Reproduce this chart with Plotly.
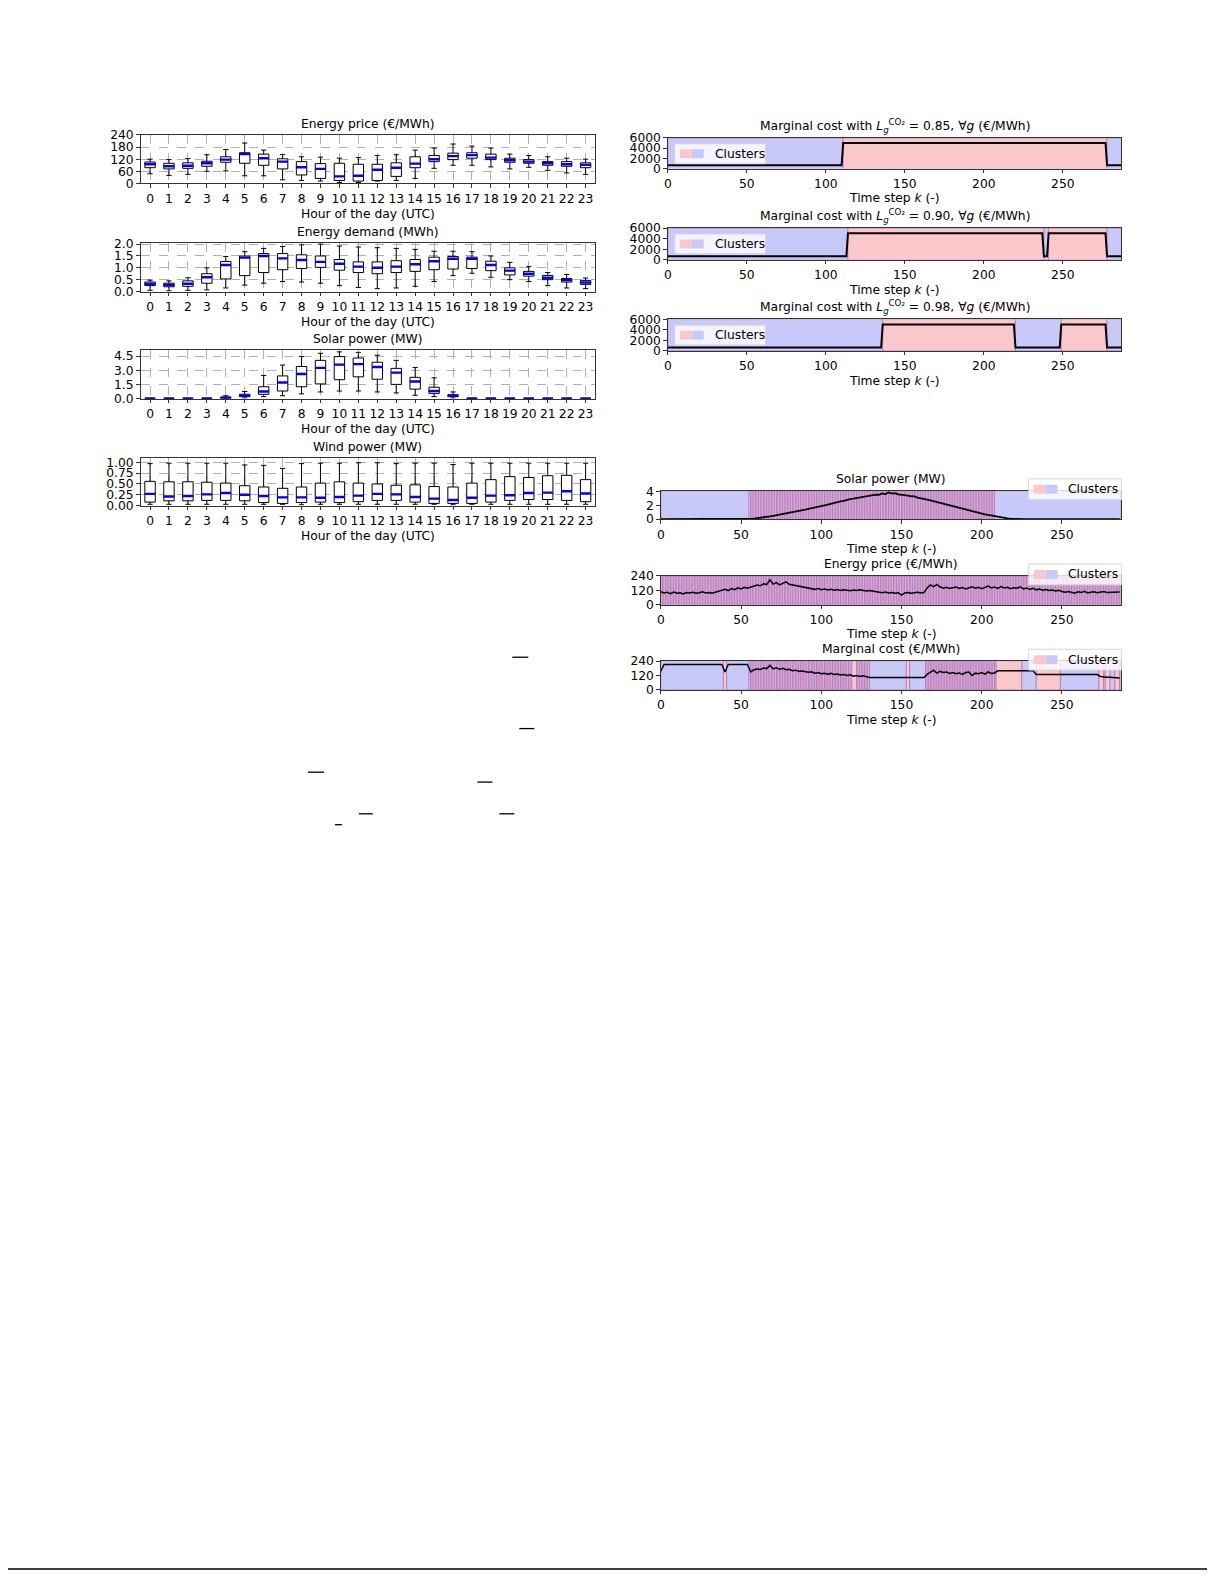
import plotly.graph_objects as go

# page is laid out in screen pixels; the html body adds an 8 px margin
PAGE_W, PAGE_H = 1225, 1585
OFF = 8
W, H = PAGE_W - 2 * OFF, PAGE_H - 2 * OFF
FONT = "DejaVu Sans"
FS = 12.3

# ---------------- box plot data (per hour of day) ----------------
hours = list(range(24))

price_lo = [48, 40, 45, 60, 62, 38, 38, 18, 15, 12, 5, 5, 12, 15, 25, 75, 90, 90, 82, 72, 80, 65, 52, 45]
price_q1 = [78, 72, 75, 85, 105, 100, 90, 72, 42, 25, 15, 12, 15, 35, 78, 108, 118, 125, 118, 105, 100, 90, 85, 78]
price_med = [95, 85, 88, 100, 118, 145, 125, 108, 80, 72, 35, 38, 68, 78, 98, 120, 135, 140, 128, 115, 108, 100, 95, 92]
price_q3 = [106, 100, 102, 110, 132, 152, 145, 122, 108, 98, 100, 95, 95, 102, 132, 138, 150, 152, 145, 125, 118, 108, 108, 102]
price_hi = [120, 118, 123, 142, 168, 200, 165, 143, 132, 130, 125, 128, 138, 142, 165, 175, 195, 185, 175, 145, 138, 132, 125, 120]

demand_lo = [0.05, 0.03, 0.05, 0.07, 0.15, 0.27, 0.35, 0.42, 0.40, 0.35, 0.25, 0.17, 0.12, 0.15, 0.22, 0.42, 0.67, 0.77, 0.60, 0.50, 0.42, 0.25, 0.15, 0.12]
demand_q1 = [0.25, 0.20, 0.22, 0.35, 0.53, 0.67, 0.80, 0.92, 0.97, 1.02, 0.90, 0.80, 0.75, 0.80, 0.85, 0.92, 0.95, 0.97, 0.88, 0.70, 0.65, 0.50, 0.40, 0.30]
demand_med = [0.32, 0.28, 0.33, 0.60, 1.12, 1.43, 1.50, 1.40, 1.33, 1.25, 1.17, 1.05, 1.00, 1.05, 1.15, 1.28, 1.38, 1.38, 1.12, 0.88, 0.75, 0.58, 0.48, 0.38]
demand_q3 = [0.40, 0.35, 0.45, 0.75, 1.27, 1.50, 1.60, 1.60, 1.55, 1.50, 1.35, 1.25, 1.25, 1.30, 1.35, 1.45, 1.48, 1.45, 1.28, 1.00, 0.85, 0.68, 0.55, 0.47]
demand_hi = [0.48, 0.45, 0.58, 1.00, 1.48, 1.68, 1.82, 1.90, 1.97, 2.00, 1.92, 1.88, 1.85, 1.82, 1.78, 1.70, 1.70, 1.68, 1.50, 1.23, 1.05, 0.80, 0.72, 0.57]

solar_lo = [0, 0, 0, 0, 0.0, 0.05, 0.20, 0.30, 0.50, 0.70, 0.80, 0.80, 0.70, 0.60, 0.35, 0.20, 0.05, 0, 0, 0, 0, 0, 0, 0]
solar_q1 = [0, 0, 0, 0, 0.02, 0.20, 0.45, 0.80, 1.25, 1.55, 2.00, 2.30, 2.05, 1.50, 1.00, 0.55, 0.20, 0, 0, 0, 0, 0, 0, 0]
solar_med = [0, 0, 0, 0, 0.08, 0.30, 0.75, 1.70, 2.60, 3.25, 3.60, 3.65, 3.35, 2.75, 1.80, 0.80, 0.30, 0, 0, 0, 0, 0, 0, 0]
solar_q3 = [0, 0, 0, 0, 0.15, 0.45, 1.25, 2.40, 3.40, 4.05, 4.45, 4.30, 3.85, 3.20, 2.25, 1.20, 0.40, 0, 0, 0, 0, 0, 0, 0]
solar_hi = [0, 0, 0, 0, 0.30, 0.75, 2.45, 3.55, 4.45, 4.80, 4.95, 4.90, 4.60, 4.05, 3.30, 2.20, 0.70, 0, 0, 0, 0, 0, 0, 0]

wind_lo = [0.03, 0.03, 0.03, 0.03, 0.03, 0.03, 0.03, 0.03, 0.02, 0.03, 0.03, 0.03, 0.03, 0.03, 0.03, 0.03, 0.02, 0.03, 0.03, 0.03, 0.03, 0.03, 0.03, 0.03]
wind_q1 = [0.08, 0.11, 0.11, 0.12, 0.12, 0.11, 0.07, 0.05, 0.07, 0.08, 0.07, 0.09, 0.12, 0.12, 0.08, 0.05, 0.05, 0.05, 0.08, 0.12, 0.14, 0.14, 0.12, 0.09]
wind_med = [0.27, 0.21, 0.22, 0.26, 0.29, 0.25, 0.22, 0.19, 0.19, 0.18, 0.20, 0.23, 0.27, 0.26, 0.20, 0.16, 0.13, 0.18, 0.23, 0.24, 0.29, 0.30, 0.33, 0.28]
wind_q3 = [0.56, 0.55, 0.55, 0.54, 0.52, 0.46, 0.43, 0.40, 0.43, 0.52, 0.55, 0.52, 0.50, 0.47, 0.48, 0.44, 0.43, 0.52, 0.60, 0.67, 0.65, 0.69, 0.70, 0.60]
wind_hi = [0.97, 0.98, 0.98, 0.98, 0.98, 0.94, 0.93, 0.86, 0.97, 0.98, 0.98, 0.99, 0.99, 0.97, 0.98, 0.98, 0.95, 0.98, 0.98, 0.98, 0.98, 0.98, 0.98, 0.98]

# ---------------- marginal cost with CO2 limits (step breakpoints) ----------------
mc85_k = [0, 110, 111, 277, 278, 287]
mc85_v = [650, 650, 5000, 5000, 650, 650]
mc90_k = [0, 113, 114, 237, 238, 240, 241, 277, 278, 287]
mc90_v = [650, 650, 5000, 5000, 650, 650, 5000, 5000, 650, 650]
mc98_k = [0, 135, 136, 219, 220, 248, 249, 277, 278, 287]
mc98_v = [650, 650, 5000, 5000, 650, 650, 5000, 5000, 650, 650]

# cluster label per time step ('0' = blue cluster, '1' = red cluster)
cl85 = "0" * 111 + "1" * 167 + "0" * 10
cl90 = "0" * 114 + "1" * 124 + "0" * 3 + "1" * 37 + "0" * 10
cl98 = "0" * 136 + "1" * 84 + "0" * 29 + "1" * 29 + "0" * 10
cl_solar = "0" * 55 + "10" * 77 + "0" * 78 + "1"
cl_price = "10" * 144
cl_mc = ("0" * 39 + "1" * 2 + "0" * 14 + "1" + "01" * 32 + "1" * 2 + "01" * 4 + "0" * 23
         + "1" * 2 + "0" * 10 + "10" * 22 + "1" * 16 + "0" * 9 + "1" * 15 + "0" * 24
         + "1" * 3 + "0" + "1" * 3 + "0" * 3 + "1" * 3 + "0" * 2)

# ---------------- time series (every 2nd time step) ----------------
k2 = list(range(0, 288, 2))

solar_ts = ([0.0] * 28 +
            [0.04, 0.08, 0.14, 0.18, 0.24, 0.32, 0.40, 0.48, 0.56, 0.66, 0.76, 0.82, 0.92, 1.02,
             1.08, 1.18, 1.30, 1.38, 1.50, 1.62, 1.70, 1.82, 1.92, 2.00, 2.08, 2.22, 2.30, 2.42,
             2.55, 2.62, 2.78, 2.88, 2.95, 3.05, 3.10, 3.22, 3.28, 3.40, 3.45, 3.55, 3.50, 3.70,
             3.62, 3.85, 3.68, 3.75, 3.58, 3.55, 3.42, 3.40, 3.30, 3.28, 3.12, 3.05, 2.92, 2.82,
             2.70, 2.58, 2.45, 2.30, 2.20, 2.05, 1.92, 1.80, 1.70, 1.58, 1.48, 1.35, 1.25, 1.12,
             1.02, 0.92, 0.80, 0.70, 0.62, 0.52, 0.42, 0.34, 0.26, 0.18, 0.12, 0.07, 0.03] +
            [0.0] * 38)

price_ts = [108, 98, 104, 92, 106, 96, 100, 90, 102, 98, 104, 96, 100, 108, 98, 102, 96, 104,
            112, 120, 128, 118, 135, 125, 140, 132, 145, 138,
            145, 152, 165, 158, 175, 168, 208, 172,
            185, 165, 178, 190, 170, 165, 158, 150, 145, 140,
            138, 132, 128, 135, 125, 130, 122, 128, 120, 126, 118, 124, 120, 116, 122, 118, 124, 120, 115, 118,
            112, 108, 104, 100, 106, 98, 102, 96, 100, 80, 98, 102, 96, 100, 104, 98, 102,
            140, 165, 150, 170,
            150, 138, 145, 135, 142, 148, 136, 144, 132, 140, 150, 138, 146, 134, 142, 155, 140, 148,
            136, 152, 140, 146, 134, 142, 138, 150, 132, 140, 128, 136, 124, 130, 120, 126, 118, 122,
            114, 120, 110,
            104, 110, 100, 96, 108, 102, 112, 98, 104, 108, 100, 106, 110, 102, 104, 108, 104, 106]

mc_ts = ([157] + [213] * 19 + [150] + [213] * 7 +
         [150, 168, 175, 170, 182, 178, 205, 175, 185, 172, 180, 168, 172, 160, 165, 155, 158, 150,
          148, 152, 140, 145, 135, 140, 132, 138, 128, 132, 125, 128, 120, 126, 115, 120, 112, 118, 108] +
         [103] * 18 +
         [130, 150, 165, 140, 155, 145, 150, 138, 145, 135, 142, 130, 145, 150, 120, 140, 135, 145,
          132, 150, 138, 142] +
         [160] + [160] * 11 + [128] + [128] * 19 + [112] + [106, 106, 106, 104, 102, 100])

BLUE = "#c9c9f9"
PINK = "#fac8cb"
EDGE = "rgba(165,75,170,0.5)"

fig = go.Figure()
layout = {}
annotations = []
shapes = []


def px(x):
    return (x - OFF) / W


def py(y):
    return 1 - (y - OFF) / H


def xd(a, b):
    return [px(a), px(b)]


def yd(top, bot):
    return [py(bot), py(top)]


def axis_base(**kw):
    d = dict(showline=True, mirror=True, linecolor="#333", linewidth=1, ticks="outside",
             ticklen=3.5, tickcolor="#333", tickfont=dict(family=FONT, size=FS, color="black"),
             zeroline=False, fixedrange=True)
    d.update(kw)
    return d


def names(i):
    return ("xaxis" if i == 1 else f"xaxis{i}", "yaxis" if i == 1 else f"yaxis{i}",
            "x" if i == 1 else f"x{i}", "y" if i == 1 else f"y{i}")


def label(x, y, text):
    annotations.append(dict(x=px(x), y=py(y), xref="paper", yref="paper", text=text,
                            showarrow=False, xanchor="center", yanchor="middle",
                            font=dict(family=FONT, size=FS, color="black")))


def box_panel(i, top, bot, lo, q1, med, q3, hi, yr, tv, fmt, title):
    xa, ya, xr, yrf = names(i)
    left, right = 137, 593
    fig.add_trace(go.Box(x=hours, q1=q1, median=med, q3=q3, lowerfence=lo, upperfence=hi,
                         width=0.55, whiskerwidth=0.5, fillcolor="white", boxpoints=False,
                         line=dict(color="black", width=1), xaxis=xr, yaxis=yrf))
    fig.add_trace(go.Box(x=hours, q1=med, median=med, q3=med, lowerfence=med, upperfence=med,
                         width=0.55, whiskerwidth=0, fillcolor="rgba(0,0,0,0)", boxpoints=False,
                         line=dict(color="#0000ff", width=2.4), xaxis=xr, yaxis=yrf))
    grid = dict(showgrid=True, gridcolor="#b0b0b0", griddash="dash", gridwidth=0.8)
    layout[xa] = axis_base(domain=xd(left, right), anchor=yrf, range=[-0.5, 23.5],
                           tickvals=hours, ticktext=[str(h) for h in hours], **grid)
    layout[ya] = axis_base(domain=yd(top, bot), anchor=xr, range=yr, tickvals=tv,
                           tickformat=fmt, **grid)
    label((left + right) / 2, top - 11, title)
    label((left + right) / 2, bot + 31, "Hour of the day (UTC)")


def cluster_panel(i, left, top, bot, labels, xs, ys, yr, tv, title, lw, legend_inside):
    xa, ya, xr, yrf = names(i)
    right = 1121
    runs = []
    s = 0
    for j in range(1, len(labels) + 1):
        if j == len(labels) or labels[j] != labels[s]:
            runs.append((s, j - s, labels[s]))
            s = j
    fig.add_trace(go.Bar(x=[a + n / 2 for a, n, _ in runs], width=[n for _, n, _ in runs],
                         y=[yr[1] - yr[0]] * len(runs), base=yr[0],
                         marker=dict(color=[PINK if c == "1" else BLUE for _, _, c in runs],
                                     line=dict(color=EDGE, width=1.0)),
                         xaxis=xr, yaxis=yrf, hoverinfo="skip"))
    fig.add_trace(go.Scatter(x=xs, y=ys, mode="lines", line=dict(color="black", width=lw),
                             xaxis=xr, yaxis=yrf))
    layout[xa] = axis_base(domain=xd(left, right), anchor=yrf, range=[0, 287],
                           tickvals=[0, 50, 100, 150, 200, 250], showgrid=False)
    layout[ya] = axis_base(domain=yd(top, bot), anchor=xr, range=yr, tickvals=tv, showgrid=False)
    label((left + right) / 2, top - 12, title)
    label((left + right) / 2, bot + 30, "Time step <i>k</i> (-)")
    # legend key "Clusters"
    if legend_inside:
        bx0, bx1, by0, by1 = left + 7, left + 98, top + 6, top + 26
    else:
        bx0, bx1, by0, by1 = 1028, 1121, top - 12, top + 9
    shapes.append(dict(type="rect", xref="paper", yref="paper", x0=px(bx0), x1=px(bx1),
                       y0=py(by1), y1=py(by0), fillcolor="rgba(255,255,255,0.8)",
                       line=dict(color="#d6d6d6", width=1), layer="above"))
    yc = (by0 + by1) / 2
    for c, (p0, p1) in ((PINK, (bx0 + 5, bx0 + 17)), (BLUE, (bx0 + 17, bx0 + 29))):
        shapes.append(dict(type="rect", xref="paper", yref="paper", x0=px(p0), x1=px(p1),
                           y0=py(yc + 4.5), y1=py(yc - 4.5), fillcolor=c, line=dict(width=0),
                           layer="above"))
    annotations.append(dict(x=px(bx0 + 38), y=py(yc), xref="paper", yref="paper",
                            text="Clusters", showarrow=False, xanchor="left", yanchor="middle",
                            font=dict(family=FONT, size=FS, color="black")))


box_panel(1, 129, 178, price_lo, price_q1, price_med, price_q3, price_hi,
          [0, 240], [0, 60, 120, 180, 240], "d", "Energy price (€/MWh)")
box_panel(2, 238, 287, demand_lo, demand_q1, demand_med, demand_q3, demand_hi,
          [0, 2.05], [0, 0.5, 1.0, 1.5, 2.0], ".1f", "Energy demand (MWh)")
box_panel(3, 346, 395, solar_lo, solar_q1, solar_med, solar_q3, solar_hi,
          [0, 5.15], [0, 1.5, 3.0, 4.5], ".1f", "Solar power (MW)")
box_panel(4, 455, 503, wind_lo, wind_q1, wind_med, wind_q3, wind_hi,
          [0, 1.1], [0, 0.25, 0.5, 0.75, 1.0], ".2f", "Wind power (MW)")

mc_title = "Marginal cost with <i>L</i><sub><i>g</i></sub><sup>CO₂</sup> = {}, ∀<i>g</i> (€/MWh)"
cluster_panel(5, 666, 132, 163, cl85, mc85_k, mc85_v, [0, 6000], [0, 2000, 4000, 6000],
              mc_title.format("0.85"), 2, True)
cluster_panel(6, 666, 223, 255, cl90, mc90_k, mc90_v, [0, 6000], [0, 2000, 4000, 6000],
              mc_title.format("0.90"), 2, True)
cluster_panel(7, 666, 315, 347, cl98, mc98_k, mc98_v, [0, 6000], [0, 2000, 4000, 6000],
              mc_title.format("0.98"), 2, True)
cluster_panel(8, 659, 488, 517, cl_solar, k2, solar_ts, [-0.04, 4.1], [0, 2, 4],
              "Solar power (MW)", 1.8, False)
cluster_panel(9, 659, 574, 603, cl_price, k2, price_ts, [0, 240], [0, 120, 240],
              "Energy price (€/MWh)", 1.5, False)
cluster_panel(10, 659, 660, 689, cl_mc, k2, mc_ts, [0, 240], [0, 120, 240],
              "Marginal cost (€/MWh)", 1.5, False)

# stray page marks and page bottom rule
marks = [(510, 526, 656), (517, 532, 728), (305, 321, 772), (475, 490, 782),
         (356, 370, 814), (497, 512, 814), (332, 339, 825)]
for x0, x1, y in marks:
    shapes.append(dict(type="line", xref="paper", yref="paper", x0=px(x0), x1=px(x1),
                       y0=py(y), y1=py(y), line=dict(color="black", width=1.3)))
shapes.append(dict(type="line", xref="paper", yref="paper", x0=px(0), x1=px(1207),
                   y0=py(1576), y1=py(1576), line=dict(color="black", width=1.6)))

fig.update_layout(width=W, height=H, margin=dict(l=0, r=0, t=0, b=0), showlegend=False,
                  paper_bgcolor="white", plot_bgcolor="white", boxmode="overlay",
                  barmode="overlay", annotations=annotations, shapes=shapes,
                  font=dict(family=FONT, size=FS, color="black"), **layout)

fig.write_html("out.html")
